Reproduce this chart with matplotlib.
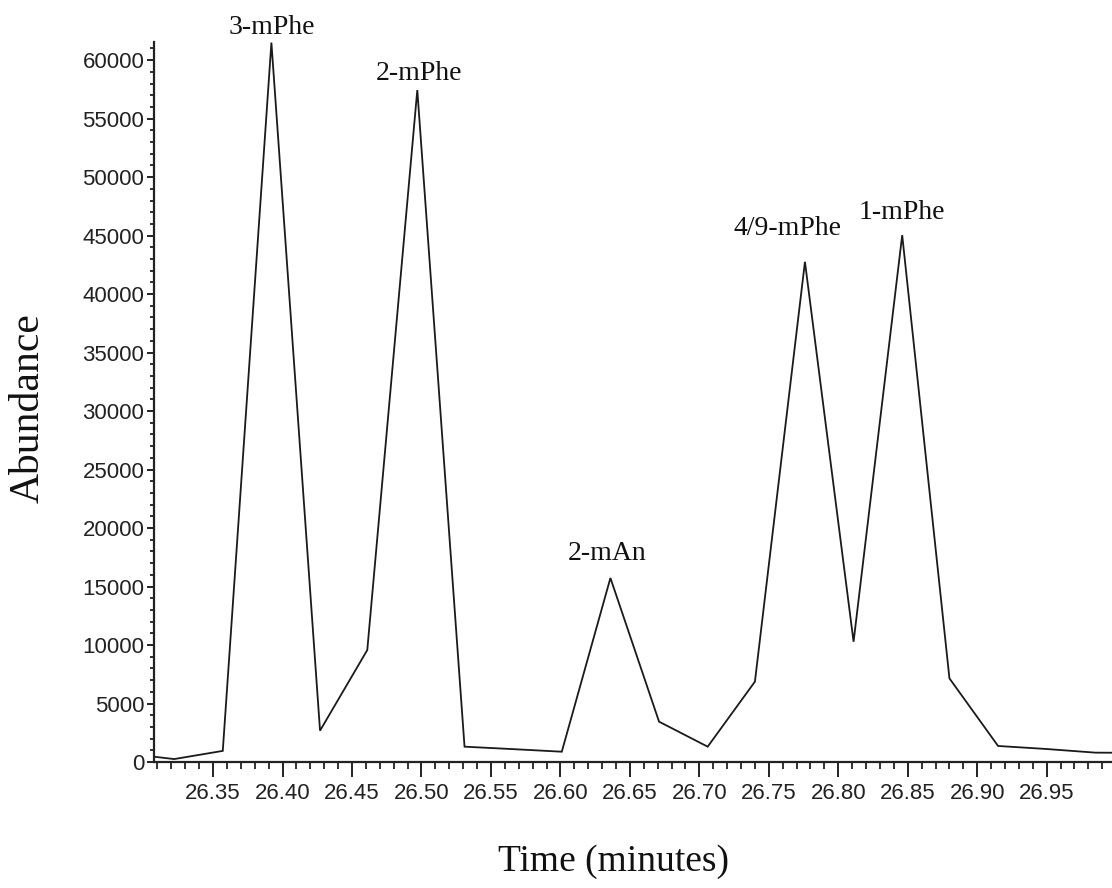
import matplotlib
matplotlib.use("Agg")
import matplotlib.pyplot as plt
from matplotlib.ticker import MultipleLocator, FormatStrFormatter
import numpy as np

# ---- data ----
times = [26.287, 26.322, 26.357, 26.392, 26.427, 26.461, 26.497, 26.531,
         26.566, 26.601, 26.636, 26.671, 26.706, 26.740, 26.776, 26.811,
         26.846, 26.880, 26.915, 26.950, 26.985, 27.020]
abundance = [740, 250, 950, 61500, 2680, 9570, 57440, 1310,
             1100, 880, 15730, 3450, 1310, 6870, 42760, 10280,
             45040, 7150, 1370, 1110, 800, 780]
peak_labels = ["3-mPhe", "2-mPhe", "2-mAn", "4/9-mPhe", "1-mPhe"]
peak_times = [26.392, 26.497, 26.636, 26.776, 26.846]
x_label = "Time (minutes)"
y_label = "Abundance"

# ---- layout / style ----
label_offsets_px = [(0, 9), (2, 10), (-3, 18), (-17, 27), (0, 16)]
sans = ["Liberation Sans", "DejaVu Sans"]
serif = ["Liberation Serif", "DejaVu Serif"]

fig = plt.figure(figsize=(11.12, 8.88), dpi=100)
ax = fig.add_axes([154 / 1112, 1 - 762 / 888, 1 - 154 / 1112, (762 - 42) / 888])

ax.plot(times, abundance, color="#1a1a1a", linewidth=1.3, solid_joinstyle="miter")

ax.set_xlim(26.3075, 26.997)
ax.set_ylim(0, 61550)

for side in ("top", "right"):
    ax.spines[side].set_visible(False)
for side in ("left", "bottom"):
    ax.spines[side].set_linewidth(1.6)
    ax.spines[side].set_color("#222222")

ax.xaxis.set_major_locator(MultipleLocator(0.05))
ax.xaxis.set_minor_locator(MultipleLocator(0.01))
ax.xaxis.set_major_formatter(FormatStrFormatter("%.2f"))
ax.yaxis.set_major_locator(MultipleLocator(5000))
ax.yaxis.set_minor_locator(MultipleLocator(1000))

ax.tick_params(axis="x", which="major", length=11, width=1.4, pad=4,
               labelsize=16, colors="#222222")
ax.tick_params(axis="x", which="minor", length=5, width=1.3, colors="#222222")
ax.tick_params(axis="y", which="major", length=5, width=1.4, pad=2,
               labelsize=16, colors="#222222")
ax.tick_params(axis="y", which="minor", length=3, width=1.3, colors="#222222")
for lab in ax.get_xticklabels() + ax.get_yticklabels():
    lab.set_family(sans)

# hide the 26.30 label if it falls outside
xt = [t for t in ax.get_xticks() if 26.3075 <= t <= 26.997]
ax.set_xticks(xt)

for name, t, off in zip(peak_labels, peak_times, label_offsets_px):
    i = int(np.argmin(np.abs(np.array(times) - t)))
    ax.annotate(name, xy=(times[i], abundance[i]), xytext=off,
                textcoords="offset pixels", ha="center", va="baseline",
                fontsize=20, family=serif, color="#111111",
                annotation_clip=False)

fig.text((500 + 728) / 2 / 1112, 1 - 862 / 888, x_label, ha="center", va="center",
         fontsize=27, family=serif, color="#111111")
fig.text(28 / 1112, 1 - 408 / 888, y_label, ha="center", va="center",
         rotation=90, fontsize=30, family=serif, color="#111111")

fig.savefig("out.png", dpi=100)
